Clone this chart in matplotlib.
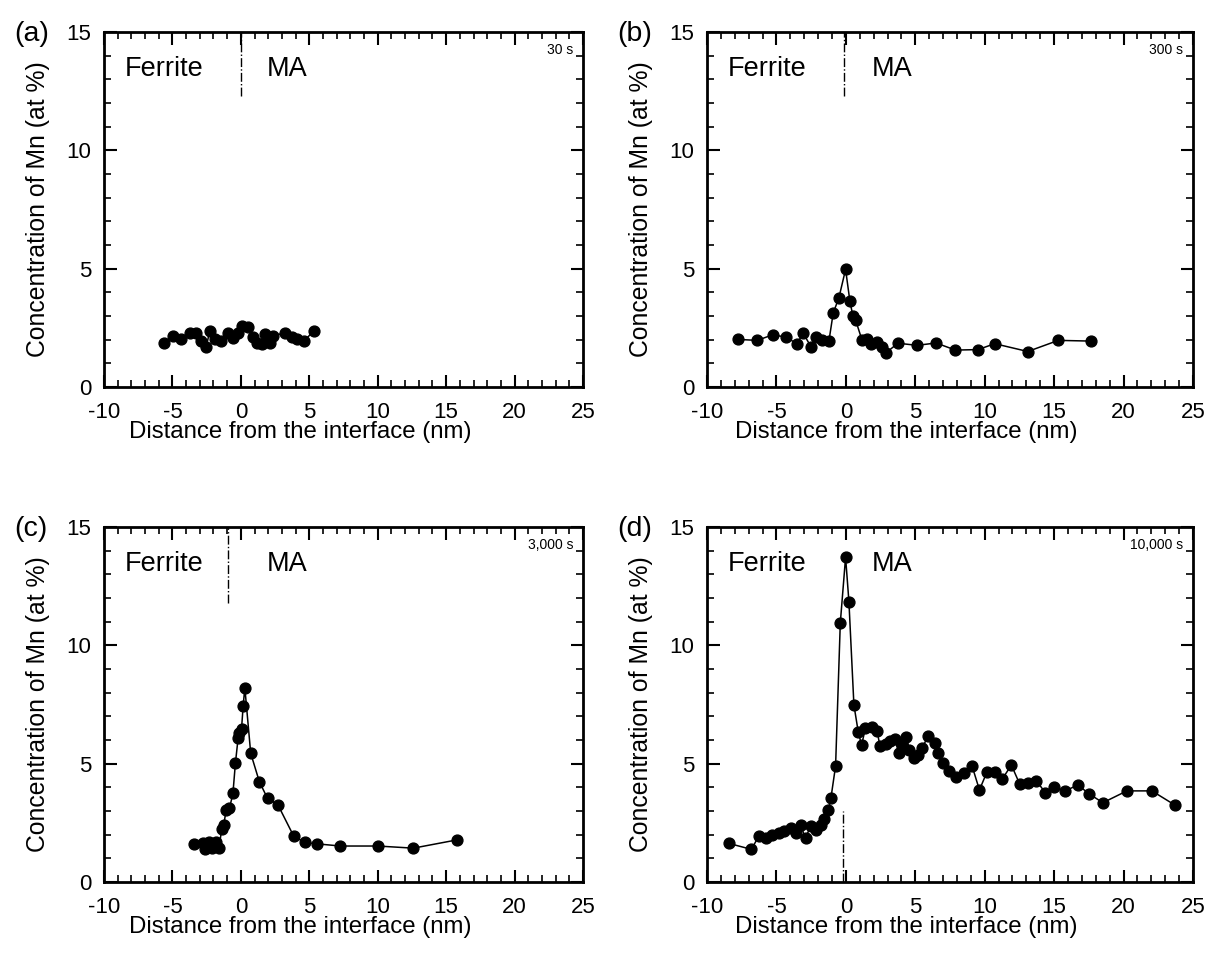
import matplotlib
matplotlib.use("Agg")
import matplotlib.pyplot as plt
from matplotlib.ticker import MultipleLocator

plt.rcParams['font.family'] = ['Liberation Sans', 'DejaVu Sans']
plt.rcParams['axes.unicode_minus'] = False

# ---- data ----
a_x = [-5.59, -4.97, -4.36, -3.75, -3.26, -2.89, -2.52, -2.28, -1.91, -1.42, -0.93, -0.56,
       -0.20, 0.05, 0.54, 0.91, 1.15, 1.52, 1.76, 2.13, 2.38, 3.24, 3.73, 4.10, 4.60, 5.32]
a_y = [1.87, 2.17, 2.04, 2.29, 2.27, 1.94, 1.71, 2.36, 2.01, 1.94, 2.29, 2.08,
       2.29, 2.57, 2.54, 2.12, 1.87, 1.80, 2.22, 1.85, 2.17, 2.29, 2.12, 2.04, 1.94, 2.36]

b_x = [-7.77, -6.38, -5.25, -4.29, -3.53, -3.07, -2.52, -2.14, -1.70, -1.22, -0.91, -0.50,
       -0.02, 0.29, 0.50, 0.70, 1.17, 1.49, 1.78, 2.25, 2.57, 2.90, 3.75, 5.13, 6.50,
       7.89, 9.52, 10.72, 13.10, 15.30, 17.65]
b_y = [2.01, 1.97, 2.21, 2.10, 1.83, 2.27, 1.71, 2.10, 1.97, 1.94, 3.13, 3.77,
       4.97, 3.63, 3.02, 2.83, 1.97, 2.04, 1.80, 1.90, 1.71, 1.45, 1.85, 1.76, 1.86,
       1.56, 1.58, 1.83, 1.50, 1.97, 1.94]

c_x = [-3.45, -2.80, -2.60, -2.30, -2.10, -1.85, -1.60, -1.40, -1.25, -1.08, -0.83, -0.58,
       -0.40, -0.20, -0.10, 0.05, 0.17, 0.29, 0.72, 1.35, 1.95, 2.70, 3.85, 4.66, 5.60,
       7.28, 10.00, 12.60, 15.80]
c_y = [1.62, 1.66, 1.40, 1.68, 1.45, 1.70, 1.45, 2.22, 2.41, 3.03, 3.12, 3.74,
       5.01, 6.08, 6.28, 6.48, 7.45, 8.21, 5.44, 4.24, 3.53, 3.27, 1.95, 1.67, 1.61,
       1.52, 1.52, 1.43, 1.78]

d_x = [-8.42, -6.81, -6.26, -5.78, -5.30, -4.82, -4.46, -3.98, -3.62, -3.26, -2.90, -2.54,
       -2.18, -1.82, -1.58, -1.27, -1.08, -0.74, -0.40, -0.02, 0.22, 0.58, 0.89, 1.13,
       1.41, 1.85, 2.25, 2.45, 2.86, 3.21, 3.53, 3.81, 4.04, 4.34, 4.58, 4.89, 5.20,
       5.49, 5.92, 6.40, 6.64, 6.98, 7.46, 7.94, 8.49, 9.09, 9.62, 10.17, 10.77, 11.25,
       11.92, 12.52, 13.12, 13.72, 14.37, 14.96, 15.80, 16.71, 17.53, 18.51, 20.24,
       22.04, 23.67]
d_y = [1.63, 1.38, 1.94, 1.85, 1.99, 2.06, 2.17, 2.27, 2.06, 2.40, 1.85, 2.37,
       2.19, 2.40, 2.68, 3.03, 3.53, 4.90, 10.95, 13.72, 11.85, 7.48, 6.35, 5.79,
       6.49, 6.56, 6.39, 5.75, 5.85, 5.97, 6.03, 5.44, 5.83, 6.14, 5.58, 5.22, 5.37,
       5.65, 6.17, 5.86, 5.44, 5.04, 4.71, 4.45, 4.60, 4.90, 3.89, 4.66, 4.66, 4.34,
       4.94, 4.14, 4.20, 4.28, 3.77, 4.00, 3.85, 4.10, 3.72, 3.35, 3.85,
       3.85, 3.26]

panel_labels = ["(a)", "(b)", "(c)", "(d)"]
time_labels = ["30 s", "300 s", "3,000 s", "10,000 s"]
# interface marker: x position, y from, y to
iface_x = [0.0, -0.15, -0.93, -0.2]
iface_y0 = [12.3, 12.3, 11.8, 0.0]
iface_y1 = [15.0, 15.0, 15.0, 3.0]
xticks = [-10, -5, 0, 5, 10, 15, 20, 25]
yticks = [0, 5, 10, 15]

W, H = 1215, 955
fig = plt.figure(figsize=(W / 100, H / 100), dpi=100)

rects_px = [(104, 32, 583, 387), (707, 32, 1193, 387),
            (104, 527, 583, 882), (707, 527, 1193, 882)]
datasets = [(a_x, a_y), (b_x, b_y), (c_x, c_y), (d_x, d_y)]

for i, ((l, t, r, b), (xs, ys)) in enumerate(zip(rects_px, datasets)):
    ax = fig.add_axes([l / W, 1 - b / H, (r - l) / W, (b - t) / H])
    ax.plot(xs, ys, '-', color='black', lw=1.1, marker='o', ms=7.8,
            mfc='black', mec='black', zorder=3)
    ax.set_xlim(-10, 25)
    ax.set_ylim(0, 15)
    ax.xaxis.set_minor_locator(MultipleLocator(1))
    ax.yaxis.set_minor_locator(MultipleLocator(1))
    ax.set_xticks(xticks)
    ax.set_yticks(yticks)
    ax.tick_params(which='both', direction='in', top=True, right=True,
                   labelsize=16)
    ax.tick_params(axis='x', which='major', pad=10.5)
    ax.tick_params(axis='y', which='major', pad=9)
    ax.tick_params(which='major', length=9, width=1.5)
    ax.tick_params(which='minor', length=5, width=1.2)
    for s in ax.spines.values():
        s.set_linewidth(2)
    ax.set_xlabel("Distance from the interface (nm)", fontsize=17.3)
    ax.xaxis.set_label_coords(0.41, -0.097)
    ax.set_ylabel("Concentration of Mn (at %)", fontsize=17.8, labelpad=12)
    ax.plot([iface_x[i], iface_x[i]], [iface_y0[i], iface_y1[i]],
            color='black', lw=1.0, ls='-.', zorder=2)
    ax.text(-8.5, 13.45, "Ferrite", fontsize=19.5, va='center', ha='left')
    ax.text(1.9, 13.45, "MA", fontsize=19.5, va='center', ha='left')
    ax.text(0.98, 0.97, time_labels[i], transform=ax.transAxes,
            fontsize=10, ha='right', va='top')
    fig.text((l - 90) / W, 1 - (t + 2) / H, panel_labels[i], fontsize=20.5,
             ha='left', va='center')

fig.savefig("out.png", dpi=100)
